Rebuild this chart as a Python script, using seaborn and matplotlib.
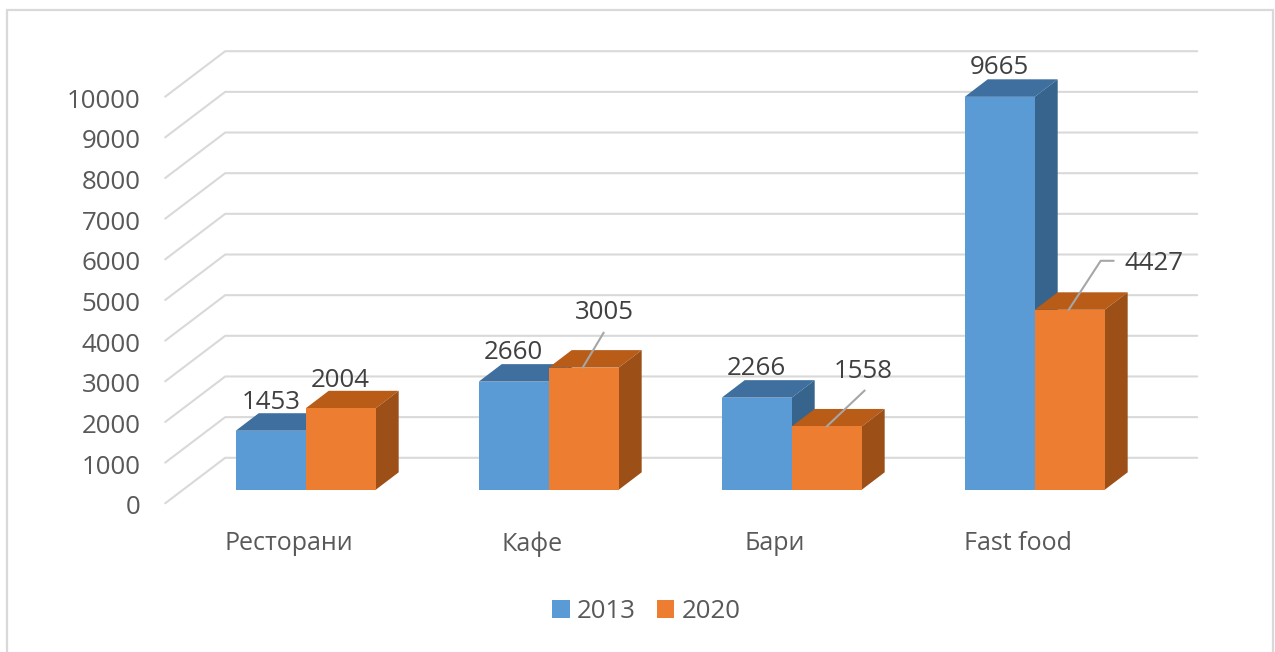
import matplotlib
matplotlib.use("Agg")
import matplotlib.pyplot as plt
from matplotlib.patches import Polygon, Rectangle
from matplotlib.transforms import ScaledTranslation, IdentityTransform
import pandas as pd
import seaborn as sns

categories = ["Ресторани", "Кафе", "Бари", "Fast food"]
values_2013 = [1453, 2660, 2266, 9665]
values_2020 = [2004, 3005, 1558, 4427]
years = ["2013", "2020"]
y_ticks = list(range(0, 10001, 1000))

W, H, DPI = 1275, 652, 100
BAR_COLORS = ["#5B9BD5", "#ED7D31"]
TOP_COLORS = ["#3E6F9E", "#B85C18"]
SIDE_COLORS = ["#36648C", "#9C5018"]
GRID = "#D9D9D9"
AXIS_TEXT = "#595959"
LABEL_TEXT = "#404040"
FONT_PT = 18.6
CAT_FONT_PT = 18

sns.set_theme(style="white")
plt.rcParams["font.family"] = ["Open Sans", "DejaVu Sans"]

df = pd.DataFrame({
    "category": categories * 2,
    "value": values_2013 + values_2020,
    "year": [years[0]] * 4 + [years[1]] * 4,
})

fig = plt.figure(figsize=(W / DPI, H / DPI), dpi=DPI, facecolor="white")
left, right, bottom_px, top_px = 184.2, 1156.2, 489.8, 83.2
ax = fig.add_axes([left / W, 1 - bottom_px / H, (right - left) / W, (bottom_px - top_px) / H])
ax.patch.set_alpha(0)

sns.barplot(data=df, x="category", y="value", hue="year", hue_order=years,
            palette=BAR_COLORS, saturation=1, width=0.576, gap=0, ax=ax)
ax.set_xlim(-0.5, 3.5)
ax.set_ylim(0, 10000)
ax.set_xlabel("")
ax.set_ylabel("")
sns.despine(ax=ax, left=True, bottom=True)
ax.grid(False)

# Pixel-space helpers (figure is saved at its own dpi)
ident = IdentityTransform()
DEPTH_X, DEPTH_Y = 23, 17.5
ax.figure.canvas.draw()

# Elbow gridlines: front wall edge -> back wall -> right end
for t in y_ticks:
    x0, y0 = ax.transAxes.transform((0, 0))[0], ax.transData.transform((0, t))[1]
    x1 = ax.transAxes.transform((1, 0))[0]
    ax.plot([x0 - 19, x0 + 41, x1 + 41], [y0 - 13.5, y0 + 32, y0 + 32],
            color=GRID, lw=1.5, transform=ident, clip_on=False, zorder=1,
            solid_joinstyle="round")

# 3-D faces derived from the bars that seaborn drew
for hue_i, container in enumerate(ax.containers):
    for bar in container:
        bar.set_zorder(2.5 + hue_i)
        bar.set_linewidth(0)
        (xa, ya) = ax.transData.transform((bar.get_x(), 0))
        (xb, yb) = ax.transData.transform((bar.get_x() + bar.get_width(), bar.get_height()))
        top = [(xa, yb), (xb, yb), (xb + DEPTH_X, yb + DEPTH_Y), (xa + DEPTH_X, yb + DEPTH_Y)]
        side = [(xb, ya), (xb + DEPTH_X, ya + DEPTH_Y), (xb + DEPTH_X, yb + DEPTH_Y), (xb, yb)]
        for pts, col in ((top, TOP_COLORS[hue_i]), (side, SIDE_COLORS[hue_i])):
            ax.add_patch(Polygon(pts, closed=True, facecolor=col, edgecolor="none",
                                 transform=ident, clip_on=False, zorder=2 + hue_i))

# Tick labels
ax.set_yticks(y_ticks)
ax.tick_params(axis="both", length=0, labelsize=FONT_PT, labelcolor=AXIS_TEXT)
ax.tick_params(axis="y", pad=31.5)
ax.tick_params(axis="x", pad=30, labelsize=CAT_FONT_PT)
ax.set_xticks(range(len(categories)), categories)
y_shift = ScaledTranslation(0, -15 / DPI, fig.dpi_scale_trans)
x_shift = ScaledTranslation(-16.7 / DPI, 0, fig.dpi_scale_trans)
for lab in ax.get_yticklabels():
    lab.set_transform(lab.get_transform() + y_shift)
for lab in ax.get_xticklabels():
    lab.set_transform(lab.get_transform() + x_shift)

# Data labels: label-centre offsets from bar-front top centre, in pixels (dx, up)
label_offsets = {
    "2013": [(1, 28), (0, 29), (0, 29), (0, 29)],
    "2020": [(0, 28), (21, 55), (37, 55), (84, 46)],
}
leaders = {
    ("2020", 1): [(-1, 0), (20, 35)],
    ("2020", 2): [(0, 0), (38, 36)],
    ("2020", 3): [(-1, 0), (31, 49), (44, 49)],
}
for hue_i, (year, container) in enumerate(zip(years, ax.containers)):
    for cat_i, bar in enumerate(container):
        cx = bar.get_x() + bar.get_width() / 2
        val = bar.get_height()
        px, py = ax.transData.transform((cx, val))
        dx, dy = label_offsets[year][cat_i]
        ax.text(px + dx, py + dy, f"{int(val)}", transform=ident, ha="center", va="center",
                fontsize=FONT_PT, color=LABEL_TEXT, zorder=8, clip_on=False)
        if (year, cat_i) in leaders:
            pts = leaders[(year, cat_i)]
            ax.plot([px + p[0] for p in pts], [py + p[1] for p in pts], color="#A6A6A6",
                    lw=1.5, transform=ident, zorder=7, clip_on=False)

# Legend
if ax.get_legend() is not None:
    ax.get_legend().remove()
handles = [ax.containers[0][0], ax.containers[1][0]]
fig.legend(handles, years, loc="center", bbox_to_anchor=(646.5 / W, 1 - 611.5 / H), ncol=2,
           frameon=False, fontsize=FONT_PT, labelcolor=AXIS_TEXT, handlelength=0.68,
           handleheight=0.68, handletextpad=0.28, columnspacing=0.8, borderpad=0)

# Chart-area frame (open at the picture's lower edge)
fig.add_artist(Rectangle((7 / W, -0.02), (1273 - 7) / W, 1.02 - 10 / H, transform=fig.transFigure,
                         facecolor="none", edgecolor=GRID, lw=1.6))

fig.savefig("out.png", dpi=DPI)
